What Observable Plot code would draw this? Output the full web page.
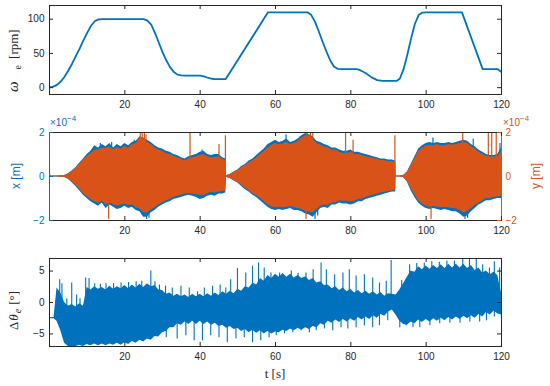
<!DOCTYPE html>
<html><head><meta charset="utf-8">
<script src="https://cdn.jsdelivr.net/npm/d3@7"></script>
<script src="https://cdn.jsdelivr.net/npm/@observablehq/plot@0.6"></script>
<style>
html,body{margin:0;padding:0;background:#fff;}
#chart{width:550px;height:386px;overflow:hidden;}
#chart svg{display:block;}
</style></head><body><div id="chart"></div>
<script>
// ---------- data ----------
const xTicks = [20, 40, 60, 80, 100, 120];
const omegaTicks = [0, 50, 100];
const posTicks = [-2, 0, 2];
const thetaTicks = [-5, 0, 5];

// panel 1: electrical speed (rpm)
const omegaT = [0,1,2,3,4,5,6,7,8,9,10,11,12,13,14,25,26,27,28,29,30,31,32,33,34,35,36,40,41,42,43,44,46.8,58,68.5,69.5,70.5,71.5,72.5,73.5,74.5,75.5,76.5,77.5,81.5,82.5,84,85.5,87,88.5,92.2,93,94,95,96,97,98,99,100,109.5,115,119,120];
const omegaV = [0.5,1.5,4,9,16,25,35,46,57,69,80,90,97,99.7,100,100,98,92,80,66,52,40,30,23,19,18,17.5,17.5,16.5,14.5,13,12.5,12.5,110,110,106,96,82,67,53,40,31,27.5,27,27,25.5,21,15,11,10,10,13,27,48,72,93,106,109.7,110,110,27,27,23];

// panel 2: x / y displacement envelopes (x 1e-4 m)
const t2 = [0,0.4,1,2,3,4,5,6,7,8,9,10,11,12,13,14,15,16,17,18,19,20,21,22,23,24,25,26,27,28,29,30,31,32,33,34,35,36,37,38,39,40,41,42,43,44,45,46,46.8,47,48,49,50,51,52,53,54,55,56,57,58,59,60,61,62,63,64,65,66,67,68,69,70,71,72,73,74,75,76,77,78,79,80,81,82,83,84,85,86,87,88,89,90,91,91.9,92,93,94,95,96,97,98,99,100,101,102,103,104,105,106,107,108,109,110,111,112,113,114,115,116,117,118,119,120];
const xUpper = [0.02,0.02,0.02,0.02,0.03,0.05,0.12,0.25,0.4,0.6,
 0.8,1.0,1.15,1.4,1.3,1.45,1.35,1.5,1.3,1.45,
 1.35,1.5,1.4,1.55,1.6,1.8,1.75,1.65,1.55,1.4,
 1.3,1.25,1.15,1.1,1.0,0.95,0.85,0.8,0.9,0.95,
 1.0,1.1,1.15,1.0,0.95,1.0,1.0,0.85,0.8,0.03,
 0.1,0.2,0.3,0.45,0.55,0.7,0.8,0.95,1.1,1.25,
 1.45,1.55,1.65,1.55,1.6,1.7,1.55,1.6,1.7,1.85,
 1.95,1.9,1.8,1.6,1.55,1.45,1.4,1.3,1.3,1.2,
 1.15,1.15,1.2,1.1,1.1,1.05,1.0,0.95,0.9,0.85,
 0.8,0.8,0.75,0.75,0.7,0.02,0.02,0.05,0.2,0.55,
 0.9,1.25,1.4,1.5,1.55,1.5,1.55,1.5,1.5,1.55,
 1.5,1.55,1.6,1.65,1.6,1.45,1.35,1.2,1.1,1.0,
 0.95,0.95,1.0,1.3];
const xLower = [-0.02,-0.02,-0.02,-0.02,-0.03,-0.05,-0.12,-0.28,-0.45,-0.65,
 -0.85,-1.0,-1.15,-1.25,-1.35,-1.2,-1.45,-1.3,-1.4,-1.5,
 -1.45,-1.35,-1.45,-1.4,-1.55,-1.6,-1.85,-1.85,-1.65,-1.55,
 -1.4,-1.3,-1.2,-1.15,-1.05,-1.0,-0.95,-0.9,-0.85,-0.9,
 -0.95,-1.05,-1.0,-0.9,-0.85,-0.9,-0.8,-0.8,-0.75,-0.03,
 -0.1,-0.2,-0.3,-0.45,-0.6,-0.7,-0.85,-0.95,-1.1,-1.25,
 -1.4,-1.5,-1.55,-1.5,-1.55,-1.5,-1.45,-1.55,-1.55,-1.6,
 -1.7,-1.75,-1.85,-1.65,-1.45,-1.4,-1.45,-1.3,-1.3,-1.2,
 -1.25,-1.25,-1.3,-1.25,-1.15,-1.15,-1.05,-1.0,-0.95,-0.9,
 -0.85,-0.8,-0.75,-0.7,-0.7,-0.02,-0.02,-0.05,-0.25,-0.65,
 -0.95,-1.2,-1.35,-1.45,-1.5,-1.45,-1.5,-1.55,-1.5,-1.55,
 -1.6,-1.6,-1.7,-1.85,-1.8,-1.6,-1.45,-1.3,-1.2,-1.1,
 -1.1,-1.05,-1.0,-1.0];
const yUpper = [0.35,0.02,0.02,0.02,0.03,0.05,0.1,0.22,0.37,0.55,
 0.75,0.92,1.05,1.2,1.22,1.3,1.28,1.35,1.22,1.32,
 1.25,1.38,1.3,1.45,1.5,1.75,1.7,1.55,1.45,1.3,
 1.2,1.15,1.05,1.0,0.92,0.85,0.78,0.72,0.8,0.85,
 0.9,0.98,1.0,0.9,0.85,0.88,0.9,0.78,0.72,0.03,
 0.09,0.18,0.27,0.4,0.5,0.62,0.72,0.85,1.0,1.15,
 1.3,1.42,1.5,1.45,1.48,1.55,1.45,1.5,1.6,1.75,
 1.85,1.85,1.7,1.5,1.42,1.35,1.3,1.2,1.2,1.1,
 1.05,1.05,1.1,1.0,1.0,0.95,0.9,0.87,0.82,0.78,
 0.73,0.72,0.68,0.68,0.65,0.02,0.02,0.05,0.18,0.5,
 0.82,1.15,1.3,1.4,1.42,1.4,1.45,1.4,1.4,1.45,
 1.42,1.45,1.5,1.55,1.5,1.35,1.25,1.1,1.0,0.92,
 0.88,0.88,0.9,1.1];
const yLower = [-0.02,-0.02,-0.02,-0.02,-0.03,-0.05,-0.1,-0.25,-0.4,-0.58,
 -0.78,-0.92,-1.05,-1.15,-1.22,-1.12,-1.3,-1.2,-1.28,-1.35,
 -1.3,-1.25,-1.32,-1.3,-1.42,-1.48,-1.65,-1.65,-1.52,-1.42,
 -1.3,-1.2,-1.1,-1.05,-0.95,-0.9,-0.85,-0.8,-0.78,-0.8,
 -0.82,-0.85,-0.85,-0.78,-0.72,-0.75,-0.7,-0.68,-0.65,-0.03,
 -0.09,-0.18,-0.27,-0.4,-0.55,-0.65,-0.78,-0.88,-1.0,-1.15,
 -1.3,-1.38,-1.42,-1.4,-1.42,-1.4,-1.35,-1.42,-1.45,-1.5,
 -1.58,-1.62,-1.65,-1.5,-1.35,-1.3,-1.32,-1.2,-1.2,-1.1,
 -1.12,-1.12,-1.15,-1.12,-1.05,-1.02,-0.95,-0.9,-0.85,-0.8,
 -0.75,-0.72,-0.68,-0.65,-0.63,-0.02,-0.02,-0.05,-0.2,-0.55,
 -0.85,-1.1,-1.25,-1.35,-1.4,-1.35,-1.4,-1.42,-1.4,-1.42,
 -1.45,-1.48,-1.55,-1.65,-1.6,-1.45,-1.32,-1.2,-1.1,-1.0,
 -1.0,-0.95,-0.92,-0.9];
// isolated spikes (time, peak value)
const ySpikeT = [15.7,24.1,24.6,25.2,25.6,37.3,45.0,46.7,68.1,68.4,69.3,69.9,78.6,80.6,91.7,101.3,109.7,116.5,117.4,118.6];
const ySpikeV = [-1.95,2.0,2.0,2.0,1.9,2.0,1.45,1.85,-1.95,2.0,2.0,2.0,2.0,1.65,1.85,-1.95,2.0,2.0,2.0,2.0];
const xSpikeT = [13.5,16.5,22.5,25.8,26.4,40.5,62.8,66.5,70.5,71.2,101.8,110.3,111.0,112.5,119.6];
const xSpikeV = [1.5,1.55,1.65,-1.95,-1.9,1.2,1.9,1.8,-1.95,-1.8,1.75,-1.95,-1.9,1.7,1.5];

// panel 3: angle error envelope (deg), 1 s resolution
const t3 = [0,1.2,2,3,4,5,6,7,8,9,10,11,12,13,14,15,16,17,18,19,20,21,22,23,24,25,26,27,28,29,30,31,32,33,34,35,36,37,38,39,40,41,42,43,44,45,46,47,48,49,50,51,52,53,54,55,56,57,58,59,60,61,62,63,64,65,66,67,68,69,70,71,72,73,74,75,76,77,78,79,80,81,82,83,84,85,86,87,88,89,90,91,92,93,94,95,96,97,98,99,100,101,102,103,104,105,106,107,108,109,110,111,112,113,114,115,116,117,118,119,120];
const thetaUp = [-2.4,-2.4,2.3,1.5,0.0,-0.6,-0.3,-0.7,-0.2,-0.6,
 2.4,2.0,2.5,2.1,2.4,2.0,2.6,2.1,2.5,2.2,
 2.7,2.2,2.8,2.3,2.9,2.4,3.0,2.5,2.7,2.0,
 1.9,1.3,1.5,1.0,1.3,0.9,1.2,0.8,1.3,0.9,
 1.3,0.9,1.4,1.0,1.5,1.1,1.7,1.3,1.8,1.4,
 2.1,1.8,2.5,2.3,3.1,2.8,3.8,3.4,4.3,3.8,
 4.5,4.0,4.6,4.0,4.5,3.9,4.3,3.8,4.1,3.5,
 3.8,3.1,3.3,2.7,2.8,2.2,2.5,1.9,2.3,1.7,
 2.1,1.5,1.9,1.4,1.8,1.3,1.7,1.2,1.6,1.0,
 1.4,1.3,1.2,2.0,3.0,4.0,5.0,4.8,5.7,5.2,
 5.8,5.3,5.9,5.4,6.0,5.4,6.1,5.5,6.1,5.5,
 6.1,5.4,5.9,5.1,5.5,4.7,5.0,4.4,4.8,4.3,
 1.5];
const thetaLo = [-2.6,-2.6,-3.0,-4.5,-6.5,-7,-7,-7,-6.8,-7,
 -6.7,-6.9,-6.6,-6.9,-6.6,-6.9,-6.6,-6.8,-6.5,-6.8,
 -6.4,-6.7,-6.2,-6.5,-6.0,-6.3,-5.8,-6.0,-5.4,-5.5,
 -4.8,-4.6,-4.0,-4.0,-3.4,-3.6,-3.1,-3.5,-3.0,-3.5,
 -3.0,-3.5,-3.1,-3.6,-3.3,-3.8,-3.6,-4.1,-3.8,-4.3,
 -4.1,-4.6,-4.3,-4.8,-4.4,-4.9,-4.5,-5.0,-4.6,-5.0,
 -4.7,-4.8,-4.4,-4.6,-4.2,-4.5,-4.1,-4.4,-4.0,-4.3,
 -3.8,-4.0,-3.4,-3.6,-3.0,-3.3,-2.8,-3.2,-2.7,-3.1,
 -2.6,-3.0,-2.4,-2.8,-2.3,-2.7,-2.1,-2.5,-1.9,-2.2,
 -1.5,-1.2,-2.0,-3.0,-3.5,-3.6,-3.1,-3.4,-2.8,-3.2,
 -2.7,-3.1,-2.6,-3.0,-2.5,-2.9,-2.4,-2.8,-2.3,-2.7,
 -2.2,-2.6,-2.1,-2.5,-1.9,-2.3,-1.6,-2.0,-1.4,-1.8,
 -2.0];
const thetaSpikeUpT = [2.7,3.3,4.6,5.9,7.2,8.1,9.6,10.5,12.0,13.5,15.0,17.0,19.0,21.0,23.0,24.5,26.9,28.0,29.2,30.8,32.6,34.9,37.1,39.3,41.1,43.3,45.3,46.8,48.1,49.9,52.1,53.9,55.5,57.0,58.8,61.1,64.2,66.0,68.1,70.0,72.1,73.5,75.7,77.9,79.6,81.4,83.6,85.8,87.6,89.4,90.7,93.5,95.6,97.5,99.5,101.5,103.5,105.5,107.5,109.7,111.5,113.3,115.0,116.8,118.1,119.5];
const thetaSpikeUpV = [3.6,3.0,0.6,3.1,1.2,0.6,3.9,3.8,3.0,2.9,3.0,3.0,3.1,3.2,3.3,3.4,5.0,3.3,2.8,2.6,2.3,2.6,2.3,1.7,2.3,2.6,2.8,2.3,3.6,5.4,4.7,5.8,6.3,5.5,4.7,4.7,5.0,4.6,4.7,5.2,6.3,5.2,4.4,4.7,5.2,4.2,4.4,3.9,3.1,3.4,6.7,3.5,6.0,6.2,6.3,6.5,6.4,6.6,6.6,7.0,6.9,7.0,6.0,5.5,6.5,5.5];
const thetaSpikeDnT = [31.0,33.9,36.2,38.4,40.6,42.8,45.0,47.2,49.5,51.7,53.9,56.1,58.3,60.2,62.4,64.6,66.8,69.0,70.8,73.0,75.2,77.4,79.2,81.4,83.6,85.8,87.6,89.8,93.0,94.7,96.5,98.3,101.0,103.6,106.3,109.0,111.6,114.2,116.0,118.1,120.0];
const thetaSpikeDnV = [-5.6,-5.8,-5.3,-6.1,-6.1,-5.3,-5.6,-6.4,-5.8,-5.6,-6.4,-6.1,-5.6,-5.3,-5.0,-4.8,-4.5,-4.8,-4.5,-4.2,-4.5,-4.0,-4.2,-4.0,-3.7,-4.0,-3.7,-2.9,-4.0,-3.7,-4.0,-4.0,-3.7,-3.4,-3.3,-3.3,-3.1,-3.1,-2.9,-2.3,-2.6];

// ---------- build ----------
const BLUE = "#0072BD", ORANGE = "#D95319", AX = "#262626";
const W = 550, ML = 49, MR = 49, IW = W - ML - MR;
const zip2 = (a, b) => a.slice(0, Math.min(a.length, b.length)).map((t, i) => ({t, v: b[i]}));
const band = (t, lo, hi) => t.map((tt, i) => ({t: tt, lo: lo[i], hi: hi[i]})).filter(d => d.lo != null && d.hi != null);
const sans = "'Liberation Sans', Arial, Helvetica, sans-serif";
const serif = "'Liberation Serif', 'Times New Roman', serif";
const fmt = d => (d < 0 ? "\u2212" : "") + Math.abs(d);

function frameMarks(innerH, yTicksArr, leftColor = AX, rightColor = AX) {
  return [
    Plot.frame({stroke: AX, strokeWidth: 1}),
    Plot.ruleX([0], {stroke: leftColor, strokeWidth: 1}),
    Plot.ruleX([120], {stroke: rightColor, strokeWidth: 1}),
    Plot.ruleX(xTicks, {x: d => d, stroke: AX, insetTop: innerH - 4}),
    Plot.ruleX(xTicks, {x: d => d, stroke: AX, insetBottom: innerH - 4}),
    Plot.ruleY(yTicksArr, {y: d => d, stroke: leftColor, insetRight: IW - 4}),
    Plot.ruleY(yTicksArr, {y: d => d, stroke: rightColor, insetLeft: IW - 4}),
    Plot.axisX({ticks: xTicks, tickSize: 0, tickPadding: 6, label: null, fill: AX, tickFormat: fmt})
  ];
}

function addLabel(svg, x, y, parts, {anchor = "middle", size = 13, family = serif, fill = AX, rotate = -90} = {}) {
  const t = d3.select(svg).append("text")
    .attr("transform", `translate(${x},${y}) rotate(${rotate})`)
    .attr("text-anchor", anchor).attr("font-family", family)
    .attr("font-size", size).attr("fill", fill);
  for (const p of parts) {
    const s = t.append("tspan").text(p.text);
    if (p.italic) s.attr("font-style", "italic");
    if (p.dx != null) s.attr("dx", p.dx);
    if (p.dy != null) s.attr("dy", p.dy);
    if (p.size) s.attr("font-size", p.size);
  }
  return t;
}

const style = {fontFamily: sans, fontSize: "10px", color: AX, background: "white", overflow: "visible"};

// Panel 1
const H1 = 112, MT1 = 5, MB1 = 18;
const p1 = Plot.plot({
  width: W, height: H1, marginLeft: ML, marginRight: MR, marginTop: MT1, marginBottom: MB1,
  style, x: {domain: [0, 120]}, y: {domain: [-10, 120]},
  marks: [
    Plot.line(zip2(omegaT, omegaV), {x: "t", y: "v", stroke: BLUE, strokeWidth: 1.8, curve: "linear", clip: true}),
    ...frameMarks(H1 - MT1 - MB1, omegaTicks),
    Plot.axisY({ticks: omegaTicks, tickSize: 0, tickPadding: 5, label: null, fill: AX, tickFormat: fmt})
  ]
});
addLabel(p1, 17.5, 92, [
  {text: "ω", italic: true, size: 15},
  {text: "e", dx: 12, dy: 3, size: 10},
  {text: "[rpm]", dx: 6, dy: -3}
], {anchor: "start"});

// Panel 2
const H2 = 135, MT2 = 20, MB2 = 27;
const p2 = Plot.plot({
  width: W, height: H2, marginLeft: ML, marginRight: MR, marginTop: MT2, marginBottom: MB2,
  style, x: {domain: [0, 120]}, y: {domain: [-2, 2]},
  marks: [
    Plot.areaY(band(t2, xLower, xUpper), {x: "t", y1: "lo", y2: "hi", fill: BLUE, curve: "linear", clip: true}),
    Plot.ruleX(zip2(xSpikeT, xSpikeV), {x: "t", y1: 0, y2: "v", stroke: BLUE, strokeWidth: 1.2, clip: true}),
    Plot.areaY(band(t2, yLower, yUpper), {x: "t", y1: "lo", y2: "hi", fill: ORANGE, curve: "linear", clip: true}),
    Plot.ruleX(zip2(ySpikeT, ySpikeV), {x: "t", y1: 0, y2: "v", stroke: ORANGE, strokeWidth: 1.2, clip: true}),
    ...frameMarks(H2 - MT2 - MB2, posTicks, BLUE, ORANGE),
    Plot.axisY({anchor: "left", ticks: posTicks, tickSize: 0, tickPadding: 5, label: null, fill: BLUE, tickFormat: fmt}),
    Plot.axisY({anchor: "right", ticks: posTicks, tickSize: 0, tickPadding: 4, label: null, fill: ORANGE, tickFormat: fmt})
  ]
});
addLabel(p2, 19.5, 64, [{text: "x [m]"}], {family: sans, size: 12, fill: BLUE});
addLabel(p2, 540, 64, [{text: "y [m]"}], {family: sans, size: 12, fill: ORANGE});
addLabel(p2, 50, 14, [{text: "×10"}, {text: "−4", dy: -5, size: 8}], {family: sans, size: 10, fill: BLUE, anchor: "start", rotate: 0});
addLabel(p2, 503, 14, [{text: "×10"}, {text: "−4", dy: -5, size: 8}], {family: sans, size: 10, fill: ORANGE, anchor: "start", rotate: 0});

// Panel 3
const H3 = 139, MT3 = 11, MB3 = 40;
const p3 = Plot.plot({
  width: W, height: H3, marginLeft: ML, marginRight: MR, marginTop: MT3, marginBottom: MB3,
  style, x: {domain: [0, 120]}, y: {domain: [-7, 7]},
  marks: [
    Plot.areaY(band(t3, thetaLo, thetaUp), {x: "t", y1: "lo", y2: "hi", fill: BLUE, curve: "linear", clip: true}),
    Plot.ruleX(zip2(thetaSpikeUpT, thetaSpikeUpV), {x: "t", y1: () => -1, y2: "v", stroke: BLUE, strokeWidth: 1.1, clip: true}),
    Plot.ruleX(zip2(thetaSpikeDnT, thetaSpikeDnV), {x: "t", y1: () => 0, y2: "v", stroke: BLUE, strokeWidth: 1.1, clip: true}),
    ...frameMarks(H3 - MT3 - MB3, thetaTicks),
    Plot.axisY({ticks: thetaTicks, tickSize: 0, tickPadding: 5, label: null, fill: AX, tickFormat: fmt})
  ]
});
addLabel(p3, 17.5, 83, [
  {text: "Δ"},
  {text: "θ", italic: true, dx: 1},
  {text: "e", italic: true, dx: 1, dy: 3, size: 10},
  {text: "[°]", dx: 4, dy: -3}
], {anchor: "start"});
addLabel(p3, 275, 131, [{text: "t [s]"}], {rotate: 0, size: 13});

const root = document.getElementById("chart");
root.append(p1, p2, p3);
</script></body></html>
